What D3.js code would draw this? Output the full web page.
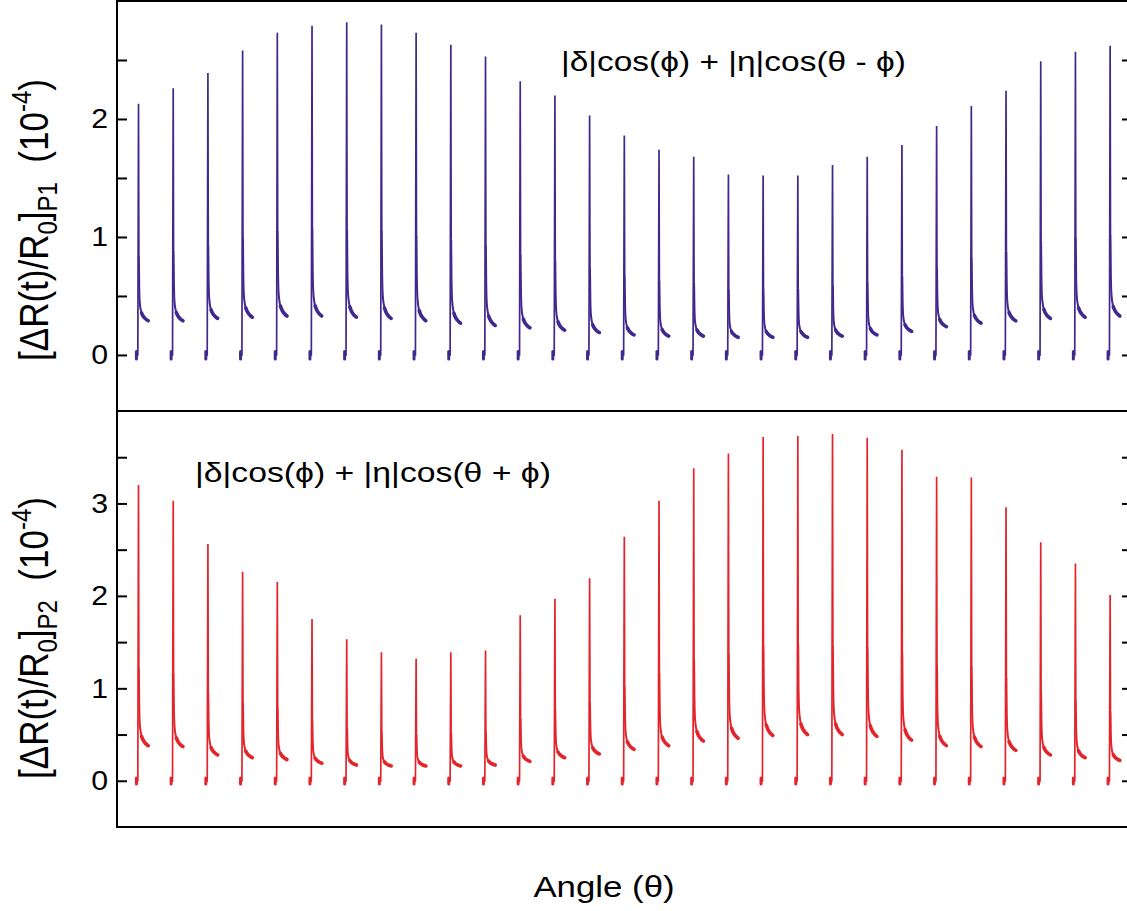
<!DOCTYPE html>
<html>
<head>
<meta charset="utf-8">
<script src="https://cdn.jsdelivr.net/npm/d3@7"></script>
<style>
  body { margin: 0; background: #fff; }
  svg text { font-family: "Liberation Sans", Arial, sans-serif; fill: #000; }
</style>
</head>
<body>
<div id="chart"></div>
<script>
// one pulse per angle step of the scan
const angleSteps = [0, 1, 2, 3, 4, 5, 6, 7, 8, 9, 10, 11, 12, 13, 14, 15, 16, 17, 18, 19, 20, 21, 22, 23, 24, 25, 26, 27, 28];

// P1 : |d|cos(phi) + |n|cos(theta - phi)
const peakP1 = [2.13, 2.26, 2.39, 2.58, 2.73, 2.79, 2.82, 2.80, 2.73, 2.63, 2.53, 2.32, 2.20, 2.03, 1.86,
                1.74, 1.68, 1.53, 1.52, 1.52, 1.61, 1.68, 1.78, 1.94, 2.11, 2.24, 2.49, 2.57, 2.62];
const tailP1 = [0.29, 0.29, 0.31, 0.32, 0.33, 0.33, 0.32, 0.31, 0.29, 0.27, 0.25, 0.23, 0.21, 0.19, 0.17,
                0.16, 0.16, 0.15, 0.15, 0.15, 0.16, 0.17, 0.20, 0.24, 0.27, 0.29, 0.31, 0.32, 0.33];

// P2 : |d|cos(phi) + |n|cos(theta + phi)
const peakP2 = [3.20, 3.03, 2.56, 2.26, 2.15, 1.75, 1.53, 1.39, 1.32, 1.39, 1.41, 1.79, 1.97, 2.19, 2.64,
                3.03, 3.38, 3.54, 3.72, 3.73, 3.75, 3.71, 3.58, 3.29, 3.28, 2.96, 2.58, 2.35, 2.01];
const tailP2 = [0.38, 0.37, 0.28, 0.25, 0.23, 0.19, 0.17, 0.16, 0.16, 0.16, 0.17, 0.21, 0.25, 0.29, 0.34,
                0.38, 0.43, 0.46, 0.49, 0.50, 0.50, 0.48, 0.44, 0.38, 0.37, 0.33, 0.28, 0.25, 0.22];

// shape of one transient, offsets in angle steps, decay as fraction of (peak - tail)
const riseDx = 0.02;
const decayDx = [0.03, 0.04, 0.05, 0.065, 0.085, 0.11, 0.15, 0.2, 0.25, 0.3];
const decayF = [0.3, 0.16, 0.1, 0.07, 0.05, 0.035, 0.022, 0.012, 0.005, 0];
const preDx = -0.04;
const preNoise = [0.03, -0.035];

const ticksP1 = [0, 0.5, 1, 1.5, 2, 2.5];
const ticksP2 = [0, 0.5, 1, 1.5, 2, 2.5, 3, 3.5];
const labelsP1 = [0, 1, 2];
const labelsP2 = [0, 1, 2, 3];

const width = 1127;
const height = 911;
const left = 117;
const right = 1132;
const stretch = 1.18;

const svg = d3.select('#chart')
  .append('svg')
  .attr('width', width)
  .attr('height', height);

const x = d3.scaleLinear().domain([-0.6, 28.65]).range([left, right]);

const yP1 = d3.scaleLinear().domain([-0.475, 3.0]).range([411, 1]);
const yP2 = d3.scaleLinear().domain([-0.5, 4.0]).range([827, 411]);

function drawPanel(y, peaks, tails, color, ticks, labels) {
  const g = svg.append('g');

  const straight = d3.line()
    .x((d) => x(d[0]))
    .y((d) => y(d[1]));

  const line = d3.line()
    .x((d) => x(d[0]))
    .y((d) => y(d[1]))
    .curve(d3.curveMonotoneX);

  angleSteps.forEach((a, i) => {
    const P = peaks[i];
    const T = tails[i];
    const pts = [[a + preDx, 0], [a, 0], [a + riseDx, P]];
    decayDx.forEach((dx, k) => pts.push([a + dx, T + (P - T) * decayF[k]]));

    // baseline and the spike
    g.append('path')
      .attr('d', straight(pts.slice(0, 4)))
      .attr('fill', 'none')
      .attr('stroke', color)
      .attr('stroke-width', 1.7);

    // decay
    g.append('path')
      .attr('d', line(pts.slice(3)))
      .attr('fill', 'none')
      .attr('stroke', color)
      .attr('stroke-width', 2)
      .attr('stroke-linejoin', 'round');

    // thick noisy tail
    const tail = pts.filter((d) => d[0] >= a + 0.11);
    g.append('path')
      .attr('d', line(tail))
      .attr('fill', 'none')
      .attr('stroke', color)
      .attr('stroke-width', 3.6)
      .attr('stroke-linecap', 'round')
      .attr('stroke-linejoin', 'round');

    // little blob before the pump
    g.append('path')
      .attr('d', straight([[a + preDx, preNoise[0]], [a + preDx, preNoise[1]]]))
      .attr('stroke', color)
      .attr('stroke-width', 3)
      .attr('stroke-linecap', 'round');
  });

  const yAxis = d3.axisLeft(y)
    .tickValues(ticks)
    .tickSizeInner(-10)
    .tickSizeOuter(0)
    .tickFormat((d) => (labels.includes(d) ? d : ''));

  const ax = svg.append('g')
    .attr('transform', `translate(${left}, 0)`)
    .call(yAxis);
  ax.select('.domain').remove();
  ax.selectAll('line').attr('stroke', '#000').attr('stroke-width', 2);
  ax.selectAll('text')
    .attr('x', 0)
    .attr('transform', `translate(-9, 0) scale(1.08, 1)`)
    .attr('font-size', 28)
    .attr('fill', '#000');

  const axR = svg.append('g')
    .attr('transform', `translate(${right}, 0)`)
    .call(d3.axisRight(y).tickValues(ticks).tickSizeInner(-10).tickSizeOuter(0).tickFormat(''));
  axR.select('.domain').remove();
  axR.selectAll('line').attr('stroke', '#000').attr('stroke-width', 2);
}

drawPanel(yP1, peakP1, tailP1, '#41288c', ticksP1, labelsP1);
drawPanel(yP2, peakP2, tailP2, '#e3242b', ticksP2, labelsP2);

// frame
const frame = svg.append('g').attr('stroke', '#000').attr('stroke-width', 2);
frame.append('line').attr('x1', left).attr('x2', right).attr('y1', yP1.range()[1]).attr('y2', yP1.range()[1]);
frame.append('line').attr('x1', left).attr('x2', right).attr('y1', yP1.range()[0]).attr('y2', yP1.range()[0]);
frame.append('line').attr('x1', left).attr('x2', right).attr('y1', yP2.range()[0]).attr('y2', yP2.range()[0]);
frame.append('line').attr('x1', left).attr('x2', left).attr('y1', 0).attr('y2', yP2.range()[0] + 1);
frame.append('line').attr('x1', right).attr('x2', right).attr('y1', 0).attr('y2', yP2.range()[0] + 1);

// y labels
function yLabel(cx, cy, sub) {
  const t = svg.append('text')
    .attr('transform', `translate(${cx}, ${cy}) scale(${stretch}, 1) rotate(-90)`)
    .attr('text-anchor', 'middle')
    .attr('font-size', 35);
  t.append('tspan').text('[\u0394R(t)/R');
  t.append('tspan').attr('font-size', 24).attr('dy', 8).text('0');
  t.append('tspan').attr('dy', -8).text(']');
  t.append('tspan').attr('font-size', 24).attr('dy', 8).text(sub);
  t.append('tspan').attr('dy', -8).text('\u00a0\u00a0(10');
  t.append('tspan').attr('font-size', 24).attr('dy', -14).text('-4');
  t.append('tspan').attr('dy', 14).text(')');
}
yLabel(48, 220, 'P1');
yLabel(48, 638, 'P2');

// formulas
svg.append('text')
  .attr('transform', `translate(561, 71) scale(1.24, 1)`)
  .attr('font-size', 27)
  .text('|\u03b4|cos(\u03d5) + |\u03b7|cos(\u03b8 - \u03d5)');

svg.append('text')
  .attr('transform', `translate(195, 482) scale(1.25, 1)`)
  .attr('font-size', 27)
  .text('|\u03b4|cos(\u03d5) + |\u03b7|cos(\u03b8 + \u03d5)');

svg.append('text')
  .attr('transform', `translate(604, 897) scale(${stretch}, 1)`)
  .attr('text-anchor', 'middle')
  .attr('font-size', 29.5)
  .text('Angle (\u03b8)');
</script>
</body>
</html>
